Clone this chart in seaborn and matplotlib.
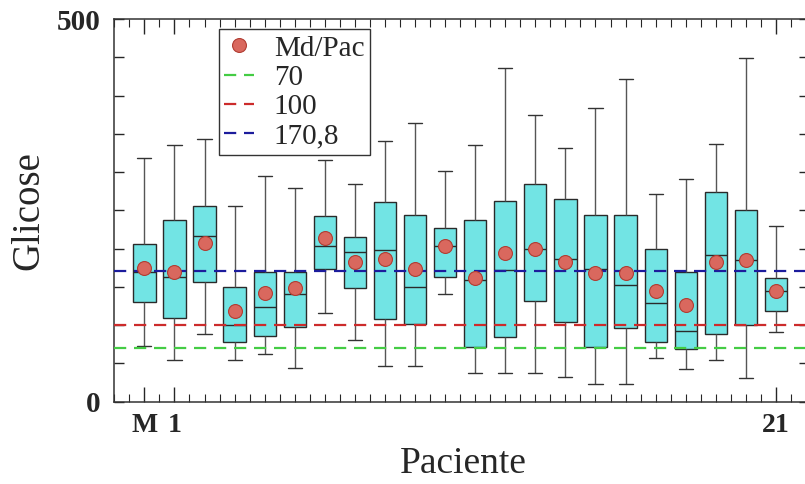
import numpy as np
import pandas as pd
import matplotlib
matplotlib.use('Agg')
import matplotlib.pyplot as plt
from matplotlib.lines import Line2D
from matplotlib.ticker import FixedLocator, MultipleLocator
import seaborn as sns

# ── データ ───────────────────────────────────────
pacientes = ['M'] + [str(i) for i in range(1, 22)]
whis_low  = [73, 55, 89, 55, 62, 44, 116, 81, 47, 47, 141, 38, 38, 38, 32, 23, 23, 57, 43, 55, 31, 91]
q1        = [130, 110, 156, 78, 86, 97, 173, 148, 108, 102, 163, 72, 84, 132, 104, 71, 96, 78, 69, 89, 100, 118]
mediana   = [170, 163, 217, 100, 124, 141, 203, 195, 198, 150, 203, 159, 172, 200, 187, 174, 153, 129, 92, 192, 185, 145]
q3        = [206, 237, 256, 150, 170, 169, 243, 215, 261, 244, 227, 237, 262, 284, 265, 244, 244, 200, 170, 274, 250, 162]
whis_high = [319, 335, 343, 256, 295, 279, 316, 284, 341, 364, 301, 335, 436, 375, 332, 384, 421, 271, 291, 337, 449, 229]
media     = [175, 170, 207, 118, 142, 148, 214, 183, 186, 174, 203, 162, 194, 200, 182, 168, 168, 145, 127, 183, 185, 145]

ref_valores = [70, 100, 170.8]
ref_labels  = ['70', '100', '170,8']
ref_cores   = ['#44cc44', '#cc2b2b', '#1c1c9c']

# 5 pontos por paciente -> quartis exatos com whis=inf
long = pd.DataFrame({
    'Paciente': np.repeat(pacientes, 5),
    'Glicose': np.column_stack([whis_low, q1, mediana, q3, whis_high]).ravel(),
})

sns.set_style('ticks', {'xtick.direction': 'in', 'ytick.direction': 'in'})
plt.rcParams['font.family'] = ['Liberation Serif', 'DejaVu Serif']

fig = plt.figure(figsize=(8.05, 4.84), dpi=100)
ax = fig.add_axes([0.142, 0.170, 0.863, 0.7907])

sns.boxplot(data=long, x='Paciente', y='Glicose', order=pacientes, whis=np.inf,
            width=0.74, color='#72e4e4', linecolor='#2a2a2a', linewidth=1.0,
            capwidths=0.47, saturation=1, ax=ax,
            whiskerprops={'color': '#555555'}, capprops={'color': '#333333'},
            boxprops={'zorder': 2})

for v, c, l in zip(ref_valores, ref_cores, ref_labels):
    ax.axhline(v, color=c, lw=1.6, dashes=(5.5, 3.5), zorder=4, label=l)

sns.pointplot(x=pacientes, y=media, order=pacientes, linestyle='none', marker='o',
              markersize=10, color='#d9685e', markeredgecolor='#b13c32',
              markeredgewidth=0.8, errorbar=None, ax=ax, zorder=5)

# ── 軸 ───────────────────────────────────────────────────────
ax.set_xlim(-1, 22.1)
ax.set_ylim(0, 500)
ax.xaxis.set_major_locator(FixedLocator([0, 1, 21]))
ax.set_xticklabels(['M', '1', '21'])
ax.xaxis.set_minor_locator(MultipleLocator(0.5))
ax.yaxis.set_major_locator(FixedLocator([0, 500]))
ax.yaxis.set_minor_locator(MultipleLocator(50))
ax.tick_params(axis='x', which='major', length=11, width=1, top=True, pad=8,
               labelsize=20)
ax.tick_params(axis='x', which='minor', length=6, width=0.8, top=True)
ax.tick_params(axis='y', which='both', length=7, width=1, right=True, pad=10,
               labelsize=21)
for t in ax.get_xticklabels() + ax.get_yticklabels():
    t.set_fontweight('bold')
for s in ax.spines.values():
    s.set_color('#333333')
    s.set_linewidth(1.1)

ax.set_xlabel('Paciente', fontsize=27)
ax.set_ylabel('Glicose', fontsize=28)
ax.xaxis.set_label_coords(0.503, -0.118)
ax.yaxis.set_label_coords(-0.097, 0.5)

handles = [Line2D([], [], ls='none', marker='o', markersize=10,
                  markerfacecolor='#d9685e', markeredgecolor='#b13c32',
                  markeredgewidth=0.8, label='Md/Pac')]
handles += [l for l in ax.lines if l.get_label() in ref_labels]
leg = ax.legend(handles=handles, loc='upper left', bbox_to_anchor=(0.150, 0.973),
                borderaxespad=0, fontsize=21, frameon=True, fancybox=False,
                handlelength=1.0, handletextpad=0.7, labelspacing=0.1,
                borderpad=0.2, framealpha=1)
leg.get_frame().set_edgecolor('#333333')
leg.get_frame().set_linewidth(1.0)
leg.set_zorder(6)

plt.savefig('out.png', dpi=100)
